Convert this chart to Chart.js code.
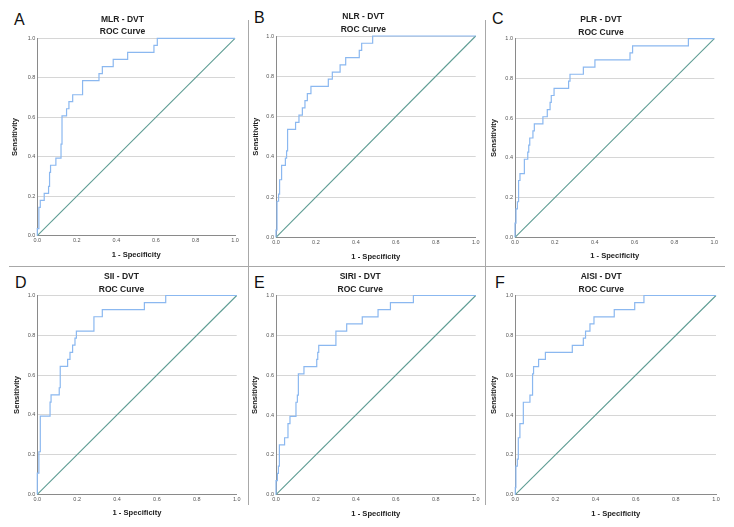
<!DOCTYPE html>
<html>
<head>
<meta charset="utf-8">
<script src="https://cdn.jsdelivr.net/npm/chart.js@4.4.0/dist/chart.umd.min.js"></script>
<style>
  body { margin: 0; background: #fff; }
  #fig { position: relative; width: 734px; height: 527px; overflow: hidden; font-family: 'Liberation Sans', Arial, sans-serif; }
  #fig canvas { position: absolute; }
  .letter { position: absolute; font-size: 16px; line-height: 16px; color: #111; }
  .rule { position: absolute; background: #a8a8a8; }
</style>
</head>
<body>
<div id="fig">
  <div class="rule" style="left:248px;top:20px;width:1px;height:485px"></div>
  <div class="rule" style="left:485px;top:20px;width:1px;height:485px"></div>
  <div class="rule" style="left:9px;top:266px;width:716px;height:1px"></div>
  <div class="letter" style="left:14px;top:12px">A</div>
  <div class="letter" style="left:254px;top:10px">B</div>
  <div class="letter" style="left:492px;top:11px">C</div>
  <div class="letter" style="left:15px;top:275px">D</div>
  <div class="letter" style="left:254px;top:275px">E</div>
  <div class="letter" style="left:495px;top:275px">F</div>
</div>
<script>
// ROC data (1 - specificity, sensitivity), upper corner of each step
const panelNames = ['MLR - DVT', 'NLR - DVT', 'PLR - DVT', 'SII - DVT', 'SIRI - DVT', 'AISI - DVT'];
const tickValues = [0, 0.2, 0.4, 0.6, 0.8, 1.0];
const refFpr = [0, 1];
const refTpr = [0, 1];

const mlrFpr = [0, 0, 0.008, 0.015, 0.035, 0.057, 0.062, 0.067, 0.094, 0.12, 0.125, 0.148, 0.16, 0.179, 0.229, 0.312, 0.329, 0.384, 0.457, 0.59, 0.607, 1];
const mlrTpr = [0, 0.036, 0.143, 0.179, 0.214, 0.25, 0.321, 0.357, 0.393, 0.464, 0.607, 0.643, 0.679, 0.714, 0.786, 0.821, 0.857, 0.893, 0.929, 0.964, 1, 1];

const nlrFpr = [0, 0, 0.005, 0.013, 0.018, 0.028, 0.047, 0.053, 0.058, 0.098, 0.115, 0.132, 0.145, 0.157, 0.175, 0.262, 0.282, 0.321, 0.349, 0.417, 0.429, 0.484, 1];
const nlrTpr = [0, 0.036, 0.179, 0.214, 0.286, 0.357, 0.393, 0.429, 0.536, 0.571, 0.607, 0.643, 0.679, 0.714, 0.75, 0.786, 0.821, 0.857, 0.893, 0.929, 0.964, 1, 1];

const plrFpr = [0, 0, 0.005, 0.012, 0.018, 0.025, 0.047, 0.064, 0.069, 0.074, 0.09, 0.097, 0.14, 0.162, 0.176, 0.182, 0.196, 0.269, 0.276, 0.343, 0.401, 0.577, 0.59, 0.87, 1];
const plrTpr = [0, 0.071, 0.143, 0.179, 0.286, 0.321, 0.393, 0.429, 0.464, 0.5, 0.536, 0.571, 0.607, 0.643, 0.679, 0.714, 0.75, 0.786, 0.821, 0.857, 0.893, 0.929, 0.964, 1, 1];

const siiFpr = [0, 0, 0.008, 0.015, 0.064, 0.069, 0.11, 0.115, 0.152, 0.164, 0.177, 0.189, 0.196, 0.284, 0.326, 0.537, 0.644, 1];
const siiTpr = [0, 0.107, 0.214, 0.393, 0.464, 0.5, 0.536, 0.643, 0.679, 0.714, 0.75, 0.786, 0.821, 0.893, 0.929, 0.964, 1, 1];

const siriFpr = [0, 0, 0.007, 0.012, 0.017, 0.043, 0.06, 0.07, 0.1, 0.107, 0.112, 0.14, 0.204, 0.209, 0.214, 0.3, 0.354, 0.432, 0.511, 0.573, 0.688, 1];
const siriTpr = [0, 0.071, 0.107, 0.143, 0.25, 0.286, 0.357, 0.393, 0.464, 0.5, 0.607, 0.643, 0.679, 0.714, 0.75, 0.821, 0.857, 0.893, 0.929, 0.964, 1, 1];

const aisiFpr = [0, 0, 0.003, 0.01, 0.015, 0.023, 0.04, 0.073, 0.086, 0.091, 0.116, 0.15, 0.284, 0.339, 0.35, 0.372, 0.392, 0.493, 0.595, 0.641, 1];
const aisiTpr = [0, 0.036, 0.143, 0.179, 0.286, 0.357, 0.464, 0.5, 0.607, 0.643, 0.679, 0.714, 0.75, 0.786, 0.821, 0.857, 0.893, 0.929, 0.964, 1, 1];

const rocFpr = [mlrFpr, nlrFpr, plrFpr, siiFpr, siriFpr, aisiFpr];
const rocTpr = [mlrTpr, nlrTpr, plrTpr, siiTpr, siriTpr, aisiTpr];

// where each panel sits on the page (plot box, title centre, axis title centres)
const layout = [
  { L: 37.3, R: 235, T: 38.3, B: 235.7, titleX: 122.5, titleY: 19.3, xTitleY: 255, yTitleX: 15 },
  { L: 276, R: 475.7, T: 36, B: 237.3, titleX: 363.3, titleY: 17, xTitleY: 256.7, yTitleX: 254.3 },
  { L: 515, R: 714.3, T: 38.7, B: 237.3, titleX: 601, titleY: 20, xTitleY: 256, yTitleX: 494 },
  { L: 37.3, R: 236.7, T: 295.3, B: 494.3, titleX: 121.5, titleY: 277, xTitleY: 512.7, yTitleX: 16.7 },
  { L: 276, R: 475.7, T: 294.7, B: 494.7, titleX: 360.2, titleY: 277, xTitleY: 513.7, yTitleX: 255 },
  { L: 515.3, R: 716, T: 294.7, B: 494.7, titleX: 601.2, titleY: 277, xTitleY: 513.7, yTitleX: 494 }
];

const family = "'Liberation Sans', Arial, sans-serif";
const curveColor = '#8bb8f0';
const refColor = '#5f9d94';
const gridColor = '#d6d6d6';
const axisColor = '#8a8a8a';
const fig = document.getElementById('fig');

function points(xs, ys) {
  return xs.map((x, i) => ({ x: x, y: ys[i] }));
}

function makePanel(idx) {
  const c = layout[idx];
  const padR = 8;
  const titleLH = 8.5 * 1.45;
  const axisLH = 7.6 * 1.2;
  const cx = 2 * c.titleX - c.R;
  const cy = c.titleY - titleLH / 2;
  const bottom = c.xTitleY + axisLH / 2;
  const left = Math.floor(cx), top = Math.floor(cy);
  const w = Math.ceil(c.R + padR) - left;
  const h = Math.ceil(bottom) - top;

  const canvas = document.createElement('canvas');
  canvas.width = w;
  canvas.height = h;
  canvas.style.left = left + 'px';
  canvas.style.top = top + 'px';
  fig.appendChild(canvas);

  const tickOpts = {
    font: { family: family, size: 5.5 },
    color: '#555',
    maxRotation: 0,
    autoSkip: false,
    callback: v => v.toFixed(1)
  };

  new Chart(canvas, {
    type: 'scatter',
    data: {
      datasets: [
        { data: points(rocFpr[idx], rocTpr[idx]), showLine: true, stepped: 'before', borderColor: curveColor, borderWidth: 1.2, pointRadius: 0, clip: false },
        { data: points(refFpr, refTpr), showLine: true, borderColor: refColor, borderWidth: 1.1, pointRadius: 0, clip: false }
      ]
    },
    options: {
      responsive: false,
      animation: false,
      events: [],
      layout: { padding: { left: cx - left, top: cy - top, right: left + w - c.R, bottom: top + h - bottom } },
      plugins: {
        legend: { display: false },
        tooltip: { enabled: false },
        title: {
          display: true,
          text: [panelNames[idx], 'ROC Curve'],
          color: '#222',
          font: { family: family, size: 8.5, weight: 'bold', lineHeight: 1.45 },
          padding: { top: 0, bottom: Math.max(0, c.T - cy - 2 * titleLH) }
        }
      },
      scales: {
        x: {
          type: 'linear', min: 0, max: 1,
          afterBuildTicks: s => { s.ticks = tickValues.map(v => ({ value: v })); },
          afterFit: s => { s.height = bottom - c.B; },
          ticks: Object.assign({ padding: 1.5 }, tickOpts),
          grid: { display: false, drawTicks: false },
          border: { color: axisColor, width: 1 },
          title: { display: true, text: '1 - Specificity', color: '#222', font: { family: family, size: 7.6, weight: 'bold', lineHeight: 1.2 }, padding: 0 }
        },
        y: {
          type: 'linear', min: 0, max: 1,
          afterBuildTicks: s => { s.ticks = tickValues.map(v => ({ value: v })); },
          afterFit: s => { s.width = c.L - cx; },
          ticks: Object.assign({ padding: 2 }, tickOpts),
          grid: { drawTicks: false, color: ctx => (ctx.tick && ctx.tick.value === 0) ? 'rgba(0,0,0,0)' : gridColor, lineWidth: 1 },
          border: { color: axisColor, width: 1 },
          title: { display: true, text: 'Sensitivity', color: '#222', font: { family: family, size: 7.6, weight: 'bold', lineHeight: 1.2 }, padding: { top: Math.max(0, c.yTitleX - cx - axisLH / 2), bottom: 0 } }
        }
      }
    }
  });
}

for (let i = 0; i < layout.length; i++) {
  makePanel(i);
}
</script>
</body>
</html>
